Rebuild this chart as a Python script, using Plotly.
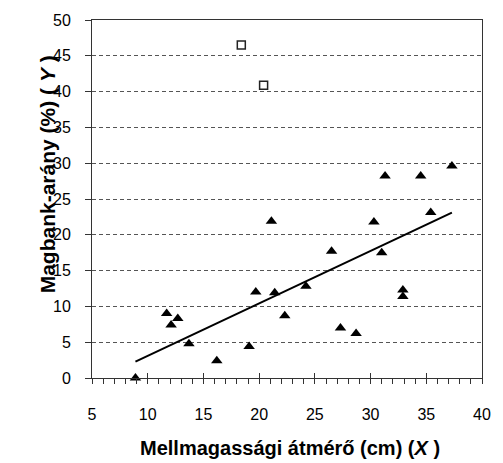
import numpy as np
import plotly.graph_objects as go

# Filled triangles (data used for the trend line)
x_tri = [8.9, 11.7, 12.1, 12.7, 13.7, 16.2, 19.1, 19.7, 21.1, 21.4, 22.3, 24.2,
         26.5, 27.3, 28.7, 30.3, 31.0, 32.9, 32.9, 35.4, 31.3, 34.5, 37.3]
y_tri = [0.0, 9.0, 7.4, 8.3, 4.8, 2.4, 4.4, 12.0, 21.9, 11.9, 8.7, 12.8,
         17.7, 7.0, 6.2, 21.8, 17.5, 12.3, 11.4, 23.1, 28.2, 28.2, 29.6]
# Open squares (outliers)
x_sq = [18.4, 20.4]
y_sq = [46.5, 40.9]

x_ticks = [5, 10, 15, 20, 25, 30, 35, 40]
y_ticks = [0, 5, 10, 15, 20, 25, 30, 35, 40, 45, 50]

slope, intercept = np.polyfit(x_tri, y_tri, 1)
x_line = [min(x_tri), max(x_tri)]
y_line = [slope * v + intercept for v in x_line]

FONT = "Liberation Sans, Arial, sans-serif"

fig = go.Figure()
fig.add_trace(go.Scatter(x=x_line, y=y_line, mode="lines",
                         line=dict(color="black", width=2), showlegend=False,
                         hoverinfo="skip"))
fig.add_trace(go.Scatter(x=x_tri, y=y_tri, mode="markers",
                         marker=dict(symbol="triangle-up", size=10, color="black",
                                     line=dict(width=0)),
                         showlegend=False, cliponaxis=False))
fig.add_trace(go.Scatter(x=x_sq, y=y_sq, mode="markers",
                         marker=dict(symbol="square-open", size=8, color="#222",
                                     line=dict(width=1.5)),
                         showlegend=False, cliponaxis=False))
# invisible trace for second x-axis (inside major ticks)
fig.add_trace(go.Scatter(x=[5, 40], y=[0, 0], xaxis="x2", mode="markers",
                         marker=dict(opacity=0), showlegend=False, hoverinfo="skip"))

L, R, T, B = 92, 12, 16, 85
W, H = 503, 463
pw = W - L - R
ph = H - T - B

fig.update_layout(
    width=W, height=H,
    margin=dict(l=L, r=R, t=T, b=B),
    paper_bgcolor="white", plot_bgcolor="white",
    font=dict(family=FONT, size=16, color="black"),
    xaxis=dict(range=[5, 40], tickvals=x_ticks, ticks="outside", ticklen=5,
               tickcolor="#333", showgrid=False, zeroline=False,
               showline=True, linecolor="#333", linewidth=1, mirror=True,
               ticklabelstandoff=17,
               minor=dict(dtick=1, ticks="outside", ticklen=5, tickcolor="#333"),
               tickfont=dict(size=16)),
    xaxis2=dict(range=[5, 40], overlaying="x", tickvals=x_ticks, ticks="inside",
                ticklen=5, tickcolor="#333", showticklabels=False, showgrid=False,
                zeroline=False, side="bottom", anchor="y"),
    yaxis=dict(range=[0, 50], tickvals=y_ticks, ticks="outside", ticklen=6,
               tickcolor="#333", showgrid=True, gridcolor="#555", griddash="4px,3px",
               gridwidth=1, zeroline=False, showline=True, linecolor="#333",
               linewidth=1, mirror=True, ticklabelstandoff=11,
               tickfont=dict(size=16)),
    annotations=[
        dict(text="<b>Mellmagassági átmérő (cm) (<i>X</i> )</b>",
             x=(295 - L) / pw, y=1 - (449 - T) / ph,
             xref="paper", yref="paper", showarrow=False,
             xanchor="center", yanchor="middle",
             font=dict(size=20, family=FONT)),
        dict(text="<b>Magbank-arány (%) ( <i>Y</i> )</b>",
             x=(46 - L) / pw, y=1 - (172 - T) / ph,
             xref="paper", yref="paper", showarrow=False, textangle=-90,
             xanchor="center", yanchor="middle",
             font=dict(size=21, family=FONT)),
    ],
)

fig.write_html("out.html")
